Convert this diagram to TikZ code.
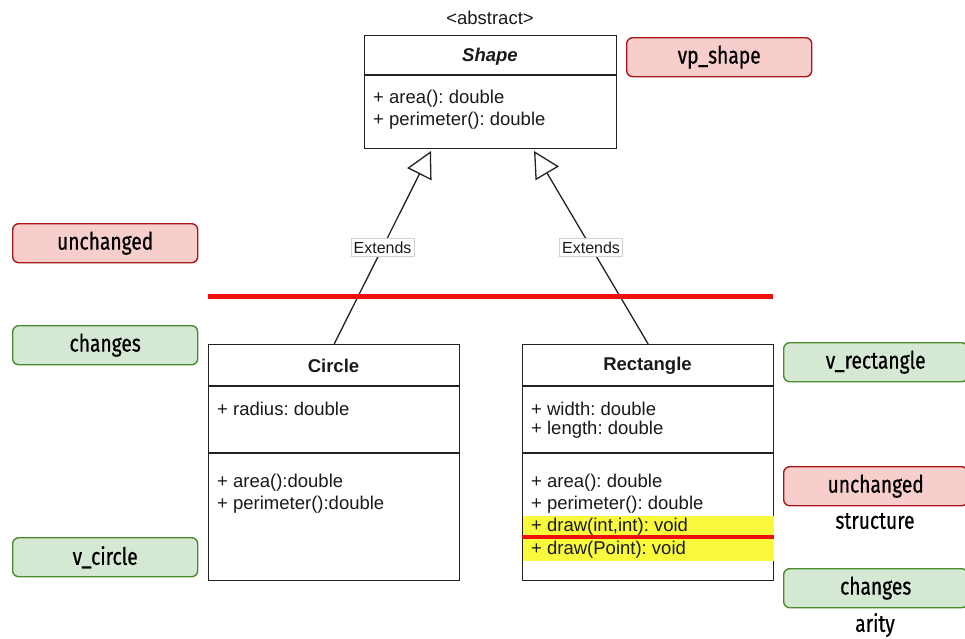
\documentclass[tikz,border=0pt]{standalone}
\usepackage{fontspec}
\setmainfont{Liberation Sans}
\newfontfamily\tagfont[FakeStretch=0.8,FakeBold=0.6]{Fira Sans}
\usetikzlibrary{arrows.meta}
\definecolor{umlline}{HTML}{222222}
\definecolor{umltext}{HTML}{1A1A1A}
\definecolor{redfill}{HTML}{F8CECC}
\definecolor{redline}{HTML}{A81818}
\definecolor{greenfill}{HTML}{D5E8D4}
\definecolor{greenline}{HTML}{4A8B2C}
\definecolor{hilite}{HTML}{FAFA3C}
\definecolor{cutline}{HTML}{F20D0D}
\newcommand{\umlfont}{\fontsize{18.5}{22}\selectfont}
\newcommand{\tagsize}{\tagfont\fontsize{24}{27}\selectfont}
\frenchspacing
\begin{document}
\begin{tikzpicture}[x=1pt,y=-1pt,
  umlbox/.style={draw=umlline, line width=1.3pt, fill=white, inner sep=0pt, anchor=north west},
  member/.style={anchor=west, inner sep=0pt, font=\umlfont, text=umltext},
  classname/.style={inner sep=0pt, font=\umlfont\bfseries, text=umltext},
  divider/.style={draw=umlline, line width=1.1pt},
  extends/.style={draw=umlline, line width=1.3pt, -{Triangle[open, length=26pt, width=27pt]}},
  extlabel/.style={fill=white, draw=black!18, line width=0.6pt, font=\fontsize{16}{18}\selectfont, text=umltext, inner xsep=2.5pt, inner ysep=3pt},
  tag/.style={rounded corners=6pt, line width=1.4pt, minimum width=185pt, minimum height=39pt, anchor=north west, inner sep=0pt, font=\tagsize},
  redtag/.style={tag, draw=redline, fill=redfill},
  greentag/.style={tag, draw=greenline, fill=greenfill},
  note/.style={inner sep=0pt, font=\tagsize},
  cut/.style={draw=cutline, line width=5pt}
]
\useasboundingbox (0,0) rectangle (965,638);

% abstract base class
\node[inner sep=0pt, font=\umlfont, text=umltext] (stereo) at (490,18) {<abstract>};
\node[umlbox, minimum width=252pt, minimum height=113pt] (shape) at (364,35) {};
\draw[divider] ([yshift=-40pt]shape.north west) -- ([yshift=-40pt]shape.north east);
\node[classname] (shapename) at (490,57) {\itshape Shape};
\node[member] (shapeA) at (373,98.5) {+ area(): double};
\node[member] (shapeP) at (373,120.5) {+ perimeter(): double};

% subclass Circle
\node[umlbox, minimum width=251pt, minimum height=236pt] (circle) at (208,344) {};
\draw[divider] ([yshift=-42pt]circle.north west) -- ([yshift=-42pt]circle.north east);
\node[classname] (circlename) at (333.5,366) {Circle};
\draw[divider] ([yshift=-109pt]circle.north west) -- ([yshift=-109pt]circle.north east);
\node[member] (circleR) at (217,408.5) {+ radius: double};
\node[member] (circleA) at (217,482.5) {+ area():double};
\node[member] (circleP) at (217,504.5) {+ perimeter():double};

% subclass Rectangle
\node[umlbox, minimum width=251pt, minimum height=236pt] (rect) at (522,344) {};
\fill[hilite] ([xshift=0.7pt,yshift=-172pt]rect.north west) rectangle ([xshift=-0.7pt,yshift=-217pt]rect.north east);
\draw[divider] ([yshift=-42pt]rect.north west) -- ([yshift=-42pt]rect.north east);
\node[classname] (rectname) at (647.5,366) {Rectangle};
\draw[divider] ([yshift=-109pt]rect.north west) -- ([yshift=-109pt]rect.north east);
\node[member] (rectW) at (531,408.5) {+ width: double};
\node[member] (rectL) at (531,429.5) {+ length: double};
\node[member] (rectA) at (531,482.5) {+ area(): double};
\node[member] (rectP) at (531,504.5) {+ perimeter(): double};
\node[member] (rectD1) at (531,526.5) {+ draw(int,int): void};
\node[member] (rectD2) at (531,549.5) {+ draw(Point): void};
\draw[cutline, line width=4.5pt] ([yshift=-193pt]rect.north west) -- ([yshift=-193pt]rect.north east);

% generalisation arrows
\coordinate (tipL) at (431,151);
\coordinate (tipR) at (534,151);
\draw[extends] (circle.north) -- node[extlabel] (extL) {Extends} (tipL);
\draw[extends] (rect.north) -- node[extlabel] (extR) {Extends} (tipR);

% boundary line
\coordinate (cutA) at (208,296);
\coordinate (cutB) at (773,296);
\draw[cut] (cutA) -- (cutB);

% tags
\node[redtag] (tagshape) at (626,37) {vp\_shape};
\node[redtag] (tagupper) at (12,223) {unchanged};
\node[greentag] (taglower) at (12,325) {changes};
\node[greentag] (tagcircle) at (12,537) {v\_circle};
\node[greentag, minimum width=184pt] (tagrect) at (783,342) {v\_rectangle};
\node[redtag, minimum width=184pt] (tagstruct) at (783,466) {unchanged};
\node[note] (structure) at (875,521) {structure};
\node[greentag, minimum width=184pt] (tagarity) at (783,568) {changes};
\node[note] (arity) at (875,625) {arity};
\end{tikzpicture}
\end{document}
